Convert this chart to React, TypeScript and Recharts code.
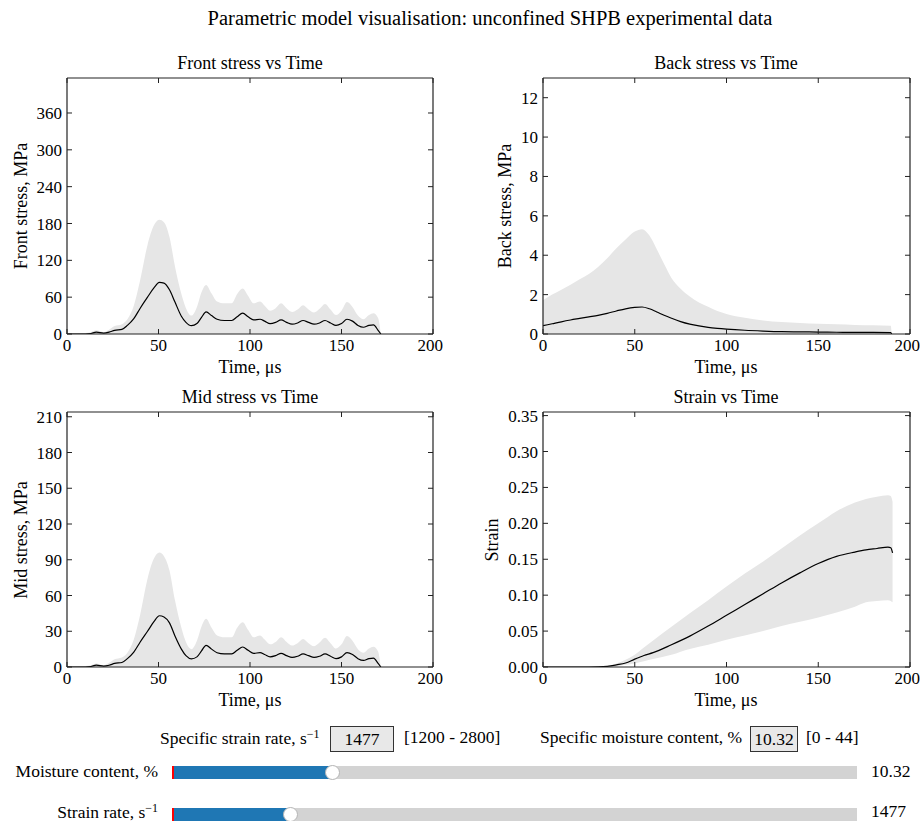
import { Area, ComposedChart, Line, XAxis, YAxis } from "recharts"

const FONT = "'Liberation Serif', 'Times New Roman', serif"

// time ticks shared by every panel
const timeTicks = [0, 50, 100, 150, 200]

// front stress (MPa)
const frontTime = [0, 5, 10, 13, 16, 20, 23, 26, 30, 33, 36.5, 40, 44, 47.5, 50.5, 53, 56, 59, 62.5, 65, 68, 71, 73.5, 76, 79, 82, 86, 90, 93, 96, 99, 102, 105.5, 108, 111, 114, 117, 120, 123, 126, 129, 132, 135, 138, 141, 144, 147, 150, 153, 156, 159, 162, 165, 167.5, 170, 171.5]
const frontMean = [0, 0, 0, 0.8, 3, 1.5, 3, 6, 7.5, 14, 25, 42, 60, 75, 84, 83, 72, 52, 29, 19, 13.5, 17, 27, 36, 30, 24, 22, 22, 28, 34, 28, 23, 24, 21, 17, 19, 23, 19, 16, 18, 22, 19, 16, 18, 22, 18, 14, 17, 24, 21, 14, 11, 14, 15, 6, 0]
const frontHigh = [0.5, 1, 1.5, 3, 6, 3, 7, 13, 16, 24, 46, 88, 145, 177, 186, 182, 158, 110, 65, 42, 30, 44, 68, 80, 66, 53, 50, 50, 65, 74, 62, 50, 53, 46, 38, 42, 50, 42, 36, 40, 47, 40, 35, 41, 49, 40, 31, 38, 52, 44, 30, 24, 31, 34, 26, 0]
const frontTicks = [0, 60, 120, 180, 240, 300, 360]

// back stress (MPa)
const backTime = [0, 5, 10, 15, 20, 25, 30, 35, 40, 45, 50, 54, 58, 62, 66, 70, 75, 80, 85, 90, 95, 100, 110, 120, 130, 140, 150, 160, 170, 180, 189.5, 190]
const backMean = [0.42, 0.52, 0.62, 0.71, 0.79, 0.87, 0.95, 1.05, 1.17, 1.28, 1.35, 1.37, 1.28, 1.12, 0.95, 0.8, 0.63, 0.5, 0.41, 0.34, 0.29, 0.25, 0.19, 0.15, 0.12, 0.11, 0.1, 0.09, 0.08, 0.08, 0.07, 0]
const backHigh = [1.72, 2.0, 2.25, 2.5, 2.78, 3.05, 3.4, 3.85, 4.35, 4.8, 5.2, 5.32, 5.0, 4.3, 3.55, 2.85, 2.3, 1.9, 1.6, 1.38, 1.17, 1.02, 0.82, 0.69, 0.61, 0.56, 0.52, 0.49, 0.46, 0.44, 0.42, 0]
const backTicks = [0, 2, 4, 6, 8, 10, 12]

// mid stress (MPa)
const midTime = frontTime
const midMean = [0, 0, 0, 0.4, 1.5, 0.8, 1.5, 3, 3.8, 7, 12.5, 21, 30, 38, 43, 42, 37, 26, 15, 9.5, 6.8, 8.5, 13.5, 18.2, 15, 12, 11, 11, 14, 16.8, 14, 11.5, 12, 10.5, 8.5, 9.5, 11.5, 9.5, 8, 9, 11, 9.5, 8, 9, 11, 9, 7, 8.5, 12, 10.5, 7, 5.5, 7, 7.5, 3, 0]
const midHigh = [0.3, 0.5, 0.8, 1.5, 3, 1.5, 3.5, 6.5, 8, 12, 23, 44, 74, 91, 96, 93, 81, 56, 33, 21, 15, 22, 34, 40.5, 33, 26.5, 25, 25, 33, 37.5, 31, 25, 26.5, 23, 19, 21, 25, 21, 18, 20, 23.5, 20, 17.5, 20.5, 24.5, 20, 15.5, 19, 26, 22, 15, 12, 15.5, 17, 13, 0]
const midTicks = [0, 30, 60, 90, 120, 150, 180, 210]

// strain
const strainTime = [0, 10, 20, 30, 35, 40, 45, 50, 55, 60, 70, 80, 90, 100, 110, 120, 130, 140, 150, 160, 170, 176, 182, 188, 189.5, 190.5]
const strainMean = [0, 0, 0, 0.0003, 0.001, 0.003, 0.0055, 0.011, 0.016, 0.02, 0.031, 0.043, 0.057, 0.072, 0.087, 0.102, 0.117, 0.131, 0.144, 0.154, 0.16, 0.163, 0.165, 0.167, 0.166, 0.159]
const strainLow = [0, 0, 0, 0, 0, 0.001, 0.003, 0.005, 0.008, 0.011, 0.017, 0.025, 0.031, 0.038, 0.044, 0.05, 0.057, 0.063, 0.069, 0.076, 0.084, 0.09, 0.092, 0.093, 0.092, 0.09]
const strainHigh = [0, 0, 0, 0, 0.0005, 0.005, 0.01, 0.017, 0.027, 0.037, 0.056, 0.075, 0.093, 0.112, 0.13, 0.147, 0.165, 0.183, 0.2, 0.217, 0.229, 0.234, 0.237, 0.239, 0.238, 0.23]
const strainTicks = [0, 0.05, 0.1, 0.15, 0.2, 0.25, 0.3, 0.35]

// widget values
const strainRate = 1477
const strainRateRange = [1200, 2800]
const moisture = 10.32
const moistureRange = [0, 44]

const buildRows = (time: number[], mean: number[], high: number[], low?: number[]) =>
  time.map((t, i) => ({ t, mean: mean[i], band: [low ? low[i] : 0, high[i]] }))

const tickStyle = { fill: "#000", fontSize: 17, fontFamily: FONT }

function Panel({
  left, top, width, height, rows, yMax, yTicks, fmt,
}: {
  left: number; top: number; width: number; height: number
  rows: { t: number; mean: number; band: number[] }[]
  yMax: number; yTicks: number[]; fmt?: (v: number) => string
}) {
  const axisLine = { stroke: "#222", strokeWidth: 1.2 }
  const tickLine = { stroke: "#222", strokeWidth: 1 }
  return (
    <div style={{ position: "absolute", left: left - 60, top: top - 10 }}>
      <ComposedChart
        width={width + 70}
        height={height + 50}
        data={rows}
        margin={{ top: 9, right: 9, left: 0, bottom: 10 }}
      >
        <XAxis
          dataKey="t"
          type="number"
          domain={[0, 200]}
          ticks={timeTicks}
          allowDataOverflow
          height={30}
          tickSize={-5}
          tickMargin={10}
          tick={tickStyle}
          axisLine={axisLine}
          tickLine={tickLine}
        />
        <XAxis
          xAxisId="top"
          dataKey="t"
          orientation="top"
          type="number"
          domain={[0, 200]}
          ticks={timeTicks}
          allowDataOverflow
          height={1}
          tickSize={-5}
          tickFormatter={() => ""}
          axisLine={axisLine}
          tickLine={tickLine}
        />
        <YAxis
          type="number"
          domain={[0, yMax]}
          ticks={yTicks}
          allowDataOverflow
          width={60}
          tickSize={-5}
          tickMargin={10}
          tick={tickStyle}
          tickFormatter={fmt}
          axisLine={axisLine}
          tickLine={tickLine}
        />
        <YAxis
          yAxisId="right"
          orientation="right"
          type="number"
          domain={[0, yMax]}
          ticks={yTicks}
          allowDataOverflow
          width={1}
          tickSize={-5}
          tickFormatter={() => ""}
          axisLine={axisLine}
          tickLine={tickLine}
        />
        <Area
          dataKey="band"
          type="monotone"
          fill="#e6e6e6"
          fillOpacity={1}
          stroke="none"
          isAnimationActive={false}
        />
        <Line
          dataKey="mean"
          type="monotone"
          stroke="#000"
          strokeWidth={1.2}
          dot={false}
          activeDot={false}
          isAnimationActive={false}
        />
        {/* invisible copy so the top / right frame axes get a scale */}
        <Line
          xAxisId="top"
          yAxisId="right"
          dataKey="mean"
          stroke="none"
          dot={false}
          activeDot={false}
          legendType="none"
          isAnimationActive={false}
        />
      </ComposedChart>
    </div>
  )
}

function Text({ x, y, size = 18, rotate = false, anchor = "middle", children }: {
  x: number; y: number; size?: number; rotate?: boolean; anchor?: "start" | "middle" | "end"; children: React.ReactNode
}) {
  const tx = anchor === "middle" ? "-50%" : anchor === "end" ? "-100%" : "0"
  return (
    <div
      style={{
        position: "absolute",
        left: x,
        top: y,
        fontFamily: FONT,
        fontSize: size,
        lineHeight: 1,
        whiteSpace: "nowrap",
        color: "#000",
        transform: `translate(${tx}, -50%)${rotate ? " rotate(-90deg)" : ""}`,
        transformOrigin: rotate ? "center" : undefined,
      }}
    >
      {children}
    </div>
  )
}

function Slider({ y, ty, label, value, min, max, text }: {
  y: number; ty: number; label: React.ReactNode; value: number; min: number; max: number; text: string
}) {
  const x0 = 172
  const x1 = 857
  const hx = x0 + ((value - min) / (max - min)) * (x1 - x0)
  return (
    <>
      <Text x={158} y={ty} size={17.5} anchor="end">{label}</Text>
      <div style={{ position: "absolute", left: x0, top: y - 6.5, width: x1 - x0, height: 13, background: "#d3d3d3" }} />
      <div style={{ position: "absolute", left: x0, top: y - 6.5, width: hx - x0, height: 13, background: "#1f77b4" }} />
      <div style={{ position: "absolute", left: x0, top: y - 6.5, width: 1.5, height: 13, background: "red" }} />
      <div
        style={{
          position: "absolute",
          left: hx - 7.5,
          top: y - 7.5,
          width: 15,
          height: 15,
          boxSizing: "border-box",
          borderRadius: "50%",
          background: "#fff",
          border: "1px solid #b5b5b5",
        }}
      />
      <Text x={871} y={ty} size={17.5} anchor="start">{text}</Text>
    </>
  )
}

function Box({ x, w, children }: { x: number; w: number; children: React.ReactNode }) {
  return (
    <div
      style={{
        position: "absolute",
        left: x,
        top: 726,
        width: w,
        height: 26,
        boxSizing: "border-box",
        border: "1px solid #333",
        background: "#e8e8e8",
        fontFamily: FONT,
        fontSize: 17.5,
        lineHeight: "24px",
        textAlign: "center",
      }}
    >
      {children}
    </div>
  )
}

const inv = <sup style={{ fontSize: 12, verticalAlign: "6px" }}>−1</sup>

export default function App() {
  return (
    <div style={{ position: "relative", width: 924, height: 821, background: "#fff", overflow: "hidden" }}>
      <style>{`body{margin:0}`}</style>

      <Text x={490} y={18} size={20.5}>Parametric model visualisation: unconfined SHPB experimental data</Text>

      <Text x={250} y={63}>Front stress vs Time</Text>
      <Text x={726} y={63}>Back stress vs Time</Text>
      <Text x={250} y={397}>Mid stress vs Time</Text>
      <Text x={726} y={397}>Strain vs Time</Text>

      <Panel left={67} top={78} width={366} height={256} rows={buildRows(frontTime, frontMean, frontHigh)} yMax={417} yTicks={frontTicks} />
      <Panel left={543} top={78} width={367} height={256} rows={buildRows(backTime, backMean, backHigh)} yMax={13} yTicks={backTicks} />
      <Panel left={67} top={412} width={366} height={255} rows={buildRows(midTime, midMean, midHigh)} yMax={214} yTicks={midTicks} />
      <Panel
        left={543}
        top={412}
        width={367}
        height={255}
        rows={buildRows(strainTime, strainMean, strainHigh, strainLow)}
        yMax={0.355}
        yTicks={strainTicks}
        fmt={(v) => v.toFixed(2)}
      />

      <Text x={250} y={367}>Time, μs</Text>
      <Text x={726} y={367}>Time, μs</Text>
      <Text x={250} y={700}>Time, μs</Text>
      <Text x={726} y={700}>Time, μs</Text>

      <Text x={21} y={206} rotate>Front stress, MPa</Text>
      <Text x={505} y={206} rotate>Back stress, MPa</Text>
      <Text x={21} y={540} rotate>Mid stress, MPa</Text>
      <Text x={492} y={540} rotate>Strain</Text>

      <Text x={160} y={738} size={17.5} anchor="start">Specific strain rate, s{inv}</Text>
      <Box x={330} w={64}>{strainRate}</Box>
      <Text x={404} y={738} size={17.5} anchor="start">[{strainRateRange[0]} - {strainRateRange[1]}]</Text>
      <Text x={540} y={738} size={17.5} anchor="start">Specific moisture content, %</Text>
      <Box x={750} w={48}>{moisture.toFixed(2)}</Box>
      <Text x={806} y={738} size={17.5} anchor="start">[{moistureRange[0]} - {moistureRange[1]}]</Text>

      <Slider y={772.5} ty={772} label="Moisture content, %" value={moisture} min={moistureRange[0]} max={moistureRange[1]} text={moisture.toFixed(2)} />
      <Slider y={814.5} ty={811.5} label={<>Strain rate, s{inv}</>} value={strainRate} min={strainRateRange[0]} max={strainRateRange[1]} text={String(strainRate)} />
    </div>
  )
}
